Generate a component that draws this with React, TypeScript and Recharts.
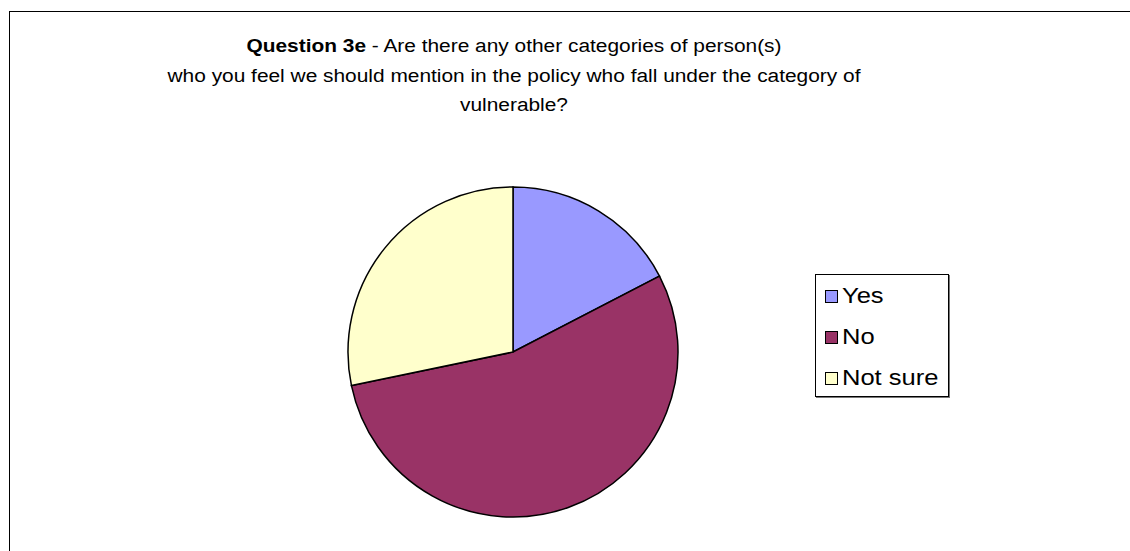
import React from "react";
import { PieChart, Pie, Cell, Legend } from "recharts";

const categories = ["Yes", "No", "Not sure"];
const counts = [8, 25, 13];
const colors = ["#9999FF", "#993366", "#FFFFCC"];
const titleBold = "Question 3e";
const titleLines = [
  " - Are there any other categories of person(s)",
  "who you feel we should mention in the policy who fall under the category of",
  "vulnerable?",
];

const data = categories.map((name, i) => ({ name, value: counts[i] }));

const FONT = "'Liberation Sans', Arial, sans-serif";

const LegendBox = () => (
  <div
    style={{
      width: 134,
      height: 123,
      border: "1px solid #000",
      boxShadow: "1px 1px 0 #777",
      background: "#fff",
      boxSizing: "border-box",
      position: "relative",
      fontFamily: FONT,
    }}
  >
    {categories.map((c, i) => (
      <div
        key={c}
        style={{
          position: "absolute",
          left: 9,
          top: 7 + i * 41,
          height: 28,
          display: "flex",
          alignItems: "center",
        }}
      >
        <div
          style={{
            width: 13,
            height: 13,
            boxSizing: "border-box",
            border: "1px solid #000",
            background: colors[i],
            marginRight: 4,
          }}
        />
        <span
          style={{
            fontSize: 22,
            lineHeight: "28px",
            color: "#000",
            display: "inline-block",
            transform: "scaleX(1.16)",
            transformOrigin: "left center",
            whiteSpace: "nowrap",
          }}
        >
          {c}
        </span>
      </div>
    ))}
  </div>
);

const lineStyle = (top: number): React.CSSProperties => ({
  position: "absolute",
  left: 514 - 565,
  width: 1130,
  top,
  textAlign: "center",
  fontFamily: FONT,
  fontSize: 18,
  lineHeight: "18px",
  color: "#000",
  whiteSpace: "nowrap",
  transform: "scaleX(1.16)",
  transformOrigin: "center",
});

export default function App() {
  return (
    <div
      style={{
        position: "fixed",
        left: 0,
        top: 0,
        width: 1130,
        height: 551,
        overflow: "hidden",
        background: "#fff",
      }}
    >
      <div
        style={{
          position: "absolute",
          left: 9,
          top: 11,
          width: 1300,
          height: 700,
          border: "1.5px solid #000",
        }}
      />
      <div style={lineStyle(37)}>
        <b>{titleBold}</b>
        {titleLines[0]}
      </div>
      <div style={lineStyle(67)}>{titleLines[1]}</div>
      <div style={lineStyle(96)}>{titleLines[2]}</div>
      <div style={{ position: "absolute", left: 0, top: 0 }}>
        <PieChart width={1130} height={551} margin={{ top: 0, right: 0, bottom: 0, left: 0 }}>
          <Pie
            data={data}
            dataKey="value"
            nameKey="name"
            cx={513}
            cy={352}
            outerRadius={165}
            innerRadius={0}
            startAngle={90}
            endAngle={-270}
            stroke="#000"
            strokeWidth={1.5}
            isAnimationActive={false}
            label={false}
            labelLine={false}
          >
            {data.map((d, i) => (
              <Cell key={d.name} fill={colors[i]} stroke="#000" strokeWidth={1.5} />
            ))}
          </Pie>
          <Legend
            content={() => <LegendBox />}
            wrapperStyle={{ position: "absolute", left: 815, top: 274, width: 136, height: 125 }}
          />
        </PieChart>
      </div>
    </div>
  );
}
